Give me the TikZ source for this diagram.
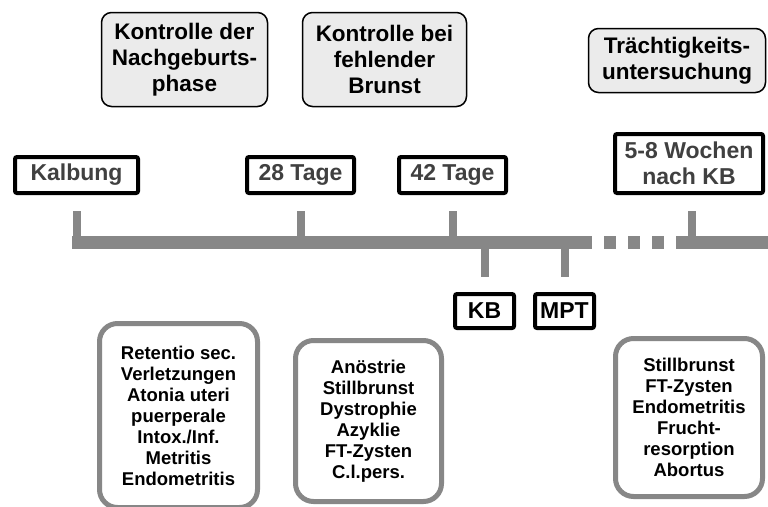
\documentclass[tikz,border=0pt]{standalone}
\usepackage{fontspec}
\setmainfont{Liberation Sans}
\definecolor{linegray}{HTML}{878787}
\definecolor{boxgray}{HTML}{EBEBEB}
\definecolor{labeltext}{HTML}{404040}
\begin{document}
\begin{tikzpicture}[x=1pt,y=-1pt,
        phase/.style={draw,line width=1.5pt,fill=boxgray,rounded corners=10pt,align=center,inner sep=0pt,font=\fontsize{22.5}{26}\selectfont\bfseries},
        timebox/.style={draw,line width=4pt,rounded corners=2pt,fill=white,align=center,inner sep=0pt,text=labeltext,font=\fontsize{23}{26}\selectfont\bfseries},
        findings/.style={draw=linegray,line width=5pt,rounded corners=18pt,fill=white,align=center,inner sep=0pt,font=\fontsize{18.5}{21}\selectfont\bfseries},
        timebar/.style={linegray,line width=13pt},
        timetick/.style={linegray,line width=8pt}]
    \useasboundingbox (0,0) rectangle (768,506);
    \node[phase,minimum width=166pt,minimum height=94pt] (nachgeburt) at (184.5,59.5) {Kontrolle der\\Nachgeburts-\\phase};
    \node[phase,minimum width=164pt,minimum height=94pt] (brunst) at (384.5,59.5) {Kontrolle bei\\fehlender\\Brunst};
    \node[phase,minimum width=177pt,minimum height=64pt] (traechtig) at (677,60.5) {Trächtigkeits-\\untersuchung};
    \node[timebox,minimum width=123pt,minimum height=36pt] (kalbung) at (76.5,175) {Kalbung};
    \node[timebox,minimum width=107pt,minimum height=36pt] (tag28) at (300.5,175) {28 Tage};
    \node[timebox,minimum width=107pt,minimum height=36pt] (tag42) at (452.5,175) {42 Tage};
    \node[timebox,minimum width=148pt,minimum height=59pt] (wochen) at (689,163.5) {5-8 Wochen\\nach KB};
    \node[timebox,text=black,minimum width=59pt,minimum height=34pt] (kb) at (484.5,311) {KB};
    \node[timebox,text=black,minimum width=59pt,minimum height=34pt] (mpt) at (564.5,311) {MPT};
    \coordinate (barL) at (72,242.5);
    \coordinate (barM) at (592,242.5);
    \coordinate (barD) at (676,242.5);
    \coordinate (barR) at (768,242.5);
    \draw[timetick] ([yshift=-16pt]kalbung.south) -- (kalbung.south |- barL);
    \draw[timetick] ([yshift=-16pt]tag28.south) -- (tag28.south |- barL);
    \draw[timetick] ([yshift=-16pt]tag42.south) -- (tag42.south |- barL);
    \draw[timetick] ([xshift=3pt,yshift=-16pt]wochen.south) -- ([xshift=3pt]wochen.south |- barL);
    \draw[timetick] (kb.north |- barL) -- ([yshift=15pt]kb.north);
    \draw[timetick] (mpt.north |- barL) -- ([yshift=15pt]mpt.north);
    \draw[timebar] (barL) -- (barM);
    \draw[timebar,dash pattern=on 12pt off 12pt,dash phase=12pt] (barM) -- (barD);
    \draw[timebar] (barD) -- (barR);
    \node[findings,minimum width=158pt,minimum height=184pt] (puerperium) at (178.5,415.5) {Retentio sec.\\Verletzungen\\Atonia uteri\\puerperale\\Intox./Inf.\\Metritis\\Endometritis};
    \node[findings,minimum width=146pt,minimum height=161pt] (anoestrie) at (368.5,421) {Anöstrie\\Stillbrunst\\Dystrophie\\Azyklie\\FT-Zysten\\C.l.pers.};
    \node[findings,minimum width=147pt,minimum height=158pt] (graviditaet) at (689,417.5) {Stillbrunst\\FT-Zysten\\Endometritis\\Frucht-\\resorption\\Abortus};
\end{tikzpicture}
\end{document}
